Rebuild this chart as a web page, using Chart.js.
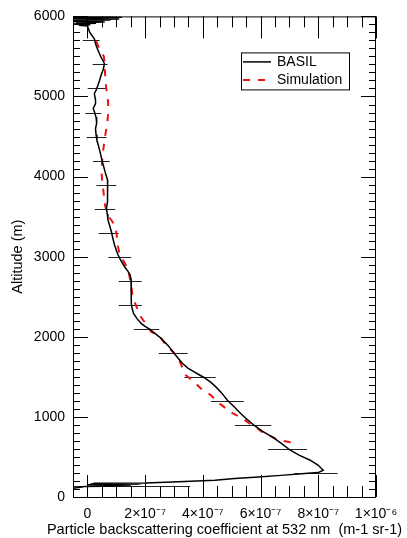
<!DOCTYPE html>
<html>
<head>
<meta charset="utf-8">
<script src="https://cdn.jsdelivr.net/npm/chart.js@4.4.0/dist/chart.umd.min.js"></script>
<style>
  html, body { margin: 0; padding: 0; background: #fff; }
  canvas { display: block; }
</style>
</head>
<body>
<canvas id="profile" width="407" height="538"></canvas>
<script>
// backscatter values are in units of 1e-7 m-1 sr-1, altitude in m
const basilAlt = [6000, 5996, 5992, 5988, 5984, 5979, 5974, 5968, 5962, 5956, 5950, 5943, 5936, 5929, 5921, 5913, 5905, 5897, 5889, 5880, 5870,
  5800, 5720, 5660, 5617, 5550, 5492, 5440, 5409, 5340, 5262, 5200, 5137, 5080, 5034, 4959, 4909, 4850, 4812, 4740, 4667, 4600, 4521, 4450,
  4375, 4290, 4209, 4130, 4062, 4000, 3959, 3875, 3771, 3690, 3605, 3530, 3459, 3390, 3312, 3230, 3146, 3070, 3000, 2940, 2875, 2820,
  2771, 2720, 2687, 2600, 2521, 2417, 2350, 2292, 2230, 2167, 2130, 2096, 2050, 2000, 1950, 1896, 1840, 1792, 1730, 1667, 1610, 1562,
  1520, 1492, 1430, 1375, 1300, 1209, 1120, 1042, 970, 896, 820, 750, 670, 584, 520, 459, 396, 334, 305, 292, 270, 250, 230, 209, 188,
  176, 172, 168, 163, 158, 152, 148, 143, 138, 130, 118, 104];
const basilBeta = [-0.6, 0.9, -0.6, 1.2, -0.5, 0.7, -0.6, 1.1, -0.4, 0.8, -0.6, 0.5, -0.5, 0.6, -0.4, 0.3, -0.5, 0.1, -0.3, 0.0, 0.01,
  0.08, 0.24, 0.28, 0.32, 0.40, 0.47, 0.55, 0.59, 0.55, 0.47, 0.42, 0.36, 0.30, 0.24, 0.28, 0.28, 0.20, 0.24, 0.30, 0.32, 0.28, 0.30, 0.33,
  0.39, 0.45, 0.50, 0.56, 0.61, 0.66, 0.70, 0.70, 0.71, 0.68, 0.66, 0.69, 0.71, 0.77, 0.83, 0.88, 0.94, 1.01, 1.09, 1.18, 1.29, 1.40,
  1.48, 1.51, 1.52, 1.52, 1.52, 1.52, 1.55, 1.60, 1.71, 1.86, 2.00, 2.15, 2.32, 2.49, 2.63, 2.78, 2.91, 3.01, 3.15, 3.30, 3.48, 3.70,
  3.90, 4.04, 4.28, 4.45, 4.65, 4.85, 5.10, 5.31, 5.53, 5.77, 6.07, 6.40, 6.72, 7.03, 7.35, 7.72, 8.00, 8.17, 8.00, 7.53, 6.70, 5.93, 5.10, 4.42, 2.94,
  2.00, 0.20, 1.90, 0.10, 1.80, 0.00, 1.50, 0.20, 1.20, -0.10, -0.30, -0.60];

const simAlt = [5690, 5600, 5500, 5410, 5290, 5200, 5100, 5010, 4900, 4810, 4710, 4625, 4500, 4420, 4310, 4230, 4125, 4045, 3920, 3830,
  3710, 3640, 3520, 3440, 3360, 3250, 3125, 3040, 2960, 2855, 2750, 2646, 2540, 2460, 2360, 2250, 2146, 2062, 1984, 1896, 1796, 1709,
  1609, 1521, 1437, 1355, 1271, 1187, 1109, 1046, 984, 921, 859, 796, 750, 709, 687, 667];
const simBeta = [0.30, 0.41, 0.57, 0.60, 0.61, 0.63, 0.65, 0.70, 0.72, 0.72, 0.70, 0.67, 0.61, 0.58, 0.54, 0.52, 0.49, 0.49, 0.52, 0.55,
  0.59, 0.61, 0.70, 0.86, 0.98, 1.02, 1.06, 1.11, 1.23, 1.40, 1.46, 1.52, 1.55, 1.60, 1.72, 1.85, 2.06, 2.21, 2.55, 2.72, 3.01, 3.18,
  3.30, 3.41, 3.70, 3.93, 4.28, 4.50, 4.79, 5.02, 5.37, 5.60, 5.88, 6.11, 6.40, 6.63, 6.98, 7.21];

// BASIL horizontal error bars
const errAlt = [5700, 5400, 5100, 4800, 4500, 4200, 3900, 3600, 3300, 3000, 2700, 2400, 2100, 1800, 1500, 1200, 900, 600, 300, 140];
const errLow = [-0.16, 0.18, 0.01, -0.07, -0.03, 0.19, 0.31, 0.25, 0.39, 0.73, 1.08, 1.08, 1.61, 2.47, 3.36, 4.28, 5.11, 6.26, 7.18, -0.5];
const errHigh = [0.42, 0.70, 0.63, 0.48, 0.66, 0.77, 1.00, 0.97, 1.08, 1.52, 1.88, 1.88, 2.49, 3.47, 4.45, 5.42, 6.37, 7.61, 8.67, 3.56];

const xTickValues = [0, 2, 4, 6, 8, 10];
const xTickLabels = ['0', '2×10⁻⁷', '4×10⁻⁷', '6×10⁻⁷', '8×10⁻⁷', '1×10⁻⁶'];
const yTickValues = [0, 1000, 2000, 3000, 4000, 5000, 6000];
const xTitle = 'Particle backscattering coefficient at 532 nm  (m-1 sr-1)';

const FONT = "'Liberation Sans', Arial, Helvetica, sans-serif";

const profileDecor = {
  id: 'profileDecor',
  beforeDatasetsDraw(chart) {
    const { ctx, chartArea } = chart;
    const xs = chart.scales.x, ys = chart.scales.y;
    ctx.save();
    ctx.beginPath();
    ctx.rect(chartArea.left, chartArea.top, chartArea.right - chartArea.left, chartArea.bottom - chartArea.top);
    ctx.clip();
    ctx.strokeStyle = '#222';
    ctx.lineWidth = 1;
    ctx.beginPath();
    errAlt.forEach((a, i) => {
      const py = Math.round(ys.getPixelForValue(a)) + 0.5;
      ctx.moveTo(xs.getPixelForValue(errLow[i]), py);
      ctx.lineTo(xs.getPixelForValue(errHigh[i]), py);
    });
    ctx.stroke();
    ctx.restore();
  },
  afterDatasetsDraw(chart) {
    const { ctx } = chart;
    const { left, right, top, bottom } = chart.chartArea;
    const xs = chart.scales.x, ys = chart.scales.y;
    ctx.save();
    ctx.strokeStyle = '#000';
    ctx.lineWidth = 1;
    ctx.strokeRect(left + 0.5, top + 0.5, right - left - 1, bottom - top);

    // inward ticks on all four sides
    ctx.beginPath();
    for (let k = -1; k <= 20; k++) {
      const v = k / 2;
      const px = Math.round(xs.getPixelForValue(v)) + 0.5;
      const len = xTickValues.includes(v) ? 22 : 11;
      ctx.moveTo(px, bottom); ctx.lineTo(px, bottom - len);
      ctx.moveTo(px, top); ctx.lineTo(px, top + len);
    }
    for (let v = 0; v <= 6000; v += 100) {
      const py = Math.round(ys.getPixelForValue(v)) + 0.5;
      const len = v % 1000 === 0 ? 15 : 7;
      ctx.moveTo(left, py); ctx.lineTo(left + len, py);
      ctx.moveTo(right, py); ctx.lineTo(right - len, py);
    }
    ctx.stroke();

    // x axis title (drawn here so it is not squeezed to the axis width)
    ctx.fillStyle = '#000';
    ctx.font = '14.5px ' + FONT;
    ctx.textAlign = 'center';
    ctx.textBaseline = 'middle';
    ctx.fillText(xTitle, (left + right) / 2, chart.height - 8);

    // legend box
    const bx = right - 135, by = top + 36;
    ctx.strokeRect(bx + 0.5, by + 0.5, 108, 37);
    ctx.font = '14px ' + FONT;
    ctx.textAlign = 'left';
    chart.data.datasets.forEach((ds, i) => {
      const ly = by + 9.5 + i * 18;
      ctx.save();
      ctx.strokeStyle = ds.borderColor;
      ctx.lineWidth = ds.borderWidth;
      ctx.setLineDash(ds.borderDash || []);
      ctx.beginPath();
      ctx.moveTo(bx + 2, ly);
      ctx.lineTo(bx + 30, ly);
      ctx.stroke();
      ctx.restore();
      ctx.fillText(ds.label, bx + 36, ly);
    });
    ctx.restore();
  }
};

new Chart(document.getElementById('profile'), {
  type: 'scatter',
  data: {
    datasets: [
      {
        label: 'BASIL',
        data: basilAlt.map((a, i) => ({ x: basilBeta[i], y: a })),
        showLine: true,
        borderColor: '#000',
        borderWidth: 1.5,
        pointRadius: 0
      },
      {
        label: 'Simulation',
        data: simAlt.map((a, i) => ({ x: simBeta[i], y: a })),
        showLine: true,
        borderColor: '#ee1111',
        borderWidth: 2,
        borderDash: [7, 8],
        pointRadius: 0
      }
    ]
  },
  options: {
    responsive: false,
    animation: false,
    devicePixelRatio: 1,
    layout: { padding: { left: 0, right: 31, top: 16, bottom: 0 } },
    plugins: { legend: { display: false }, tooltip: { enabled: false } },
    scales: {
      x: {
        type: 'linear',
        min: -0.5,
        max: 10,
        afterFit: s => { s.height = 41; },
        afterBuildTicks: s => { s.ticks = xTickValues.map(v => ({ value: v })); },
        grid: { display: false, drawTicks: false },
        border: { display: false },
        ticks: {
          padding: 9,
          color: '#000',
          maxRotation: 0,
          autoSkip: false,
          font: { family: FONT, size: 14 },
          callback: (v, i) => xTickLabels[i]
        }
      },
      y: {
        type: 'linear',
        min: 0,
        max: 6000,
        afterFit: s => { s.width = 73; },
        afterBuildTicks: s => { s.ticks = yTickValues.map(v => ({ value: v })); },
        grid: { display: false, drawTicks: false },
        border: { display: false },
        ticks: {
          padding: 8,
          color: '#000',
          font: { family: FONT, size: 14 },
          callback: v => String(v)
        },
        title: {
          display: true,
          text: 'Altitude (m)',
          color: '#000',
          font: { family: FONT, size: 14.5 },
          padding: { top: 9, bottom: 0 }
        }
      }
    }
  },
  plugins: [profileDecor]
});
</script>
</body>
</html>
